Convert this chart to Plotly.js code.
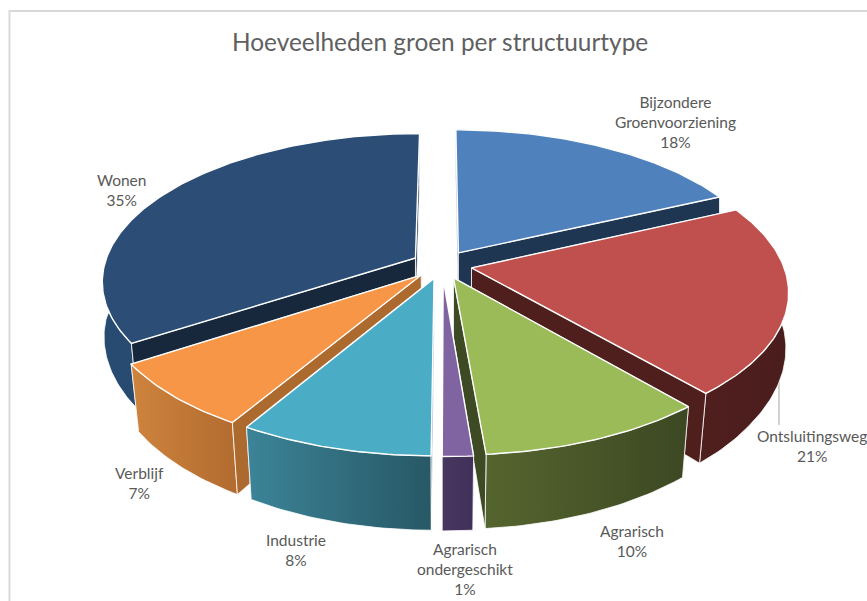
<!DOCTYPE html>
<html><head><meta charset="utf-8">
<script src="https://cdn.plot.ly/plotly-3.0.1.min.js"></script>
<style>html,body{margin:0;padding:0;background:#fff;overflow:hidden}</style>
</head><body><div id="chart" style="width:867px;height:601px"></div>
<script>
const chartTitle = "Hoeveelheden groen per structuurtype";
const categories = ["Bijzondere<br>Groenvoorziening","Ontsluitingsweg","Agrarisch","Agrarisch<br>ondergeschikt","Industrie","Verblijf","Wonen"];
const shownPercent = [18,21,10,1,8,7,35];
const sliceShares = [18.5,20.5,9.75,1.3,8.25,7.1,34.6];
const topColors = ["#4F81BD","#C0504D","#9BBB59","#8064A2","#4BACC6","#F79646","#2B4D76"];
const radialColors = ["#1F3653","#4F1F1E","#3D4A24","#43335A","#2A6273","#AD6A2E","#17283D"];
const wallLeft = ["#24415F","#4F1F1E","#55652F","#47365E","#3C8498","#CE843D","#284B72"];
const wallRight = ["#24415F","#4A1D1C","#3C4822","#41315A","#275865","#B26B30","#244468"];
const labelX = [675,812,632,465,296,139,121];
const labelY = [122,446,541,569,550,483,190];
const drawOrder = [6,0,1,5,2,4,3];

const cx=442, cy=260.5, Rx=310, Ry=144, persp=0.177, depth=60, pull=0.097, apexDrop=0.028, converge=0.024;
function project(X,Y,z){
  const w=1/(1-persp*Y), c=converge*Math.max(0,Math.min(1,Y/0.6));
  return [cx+Rx*X*w*(1-c*z), cy+Ry*Y*w+depth*z*w];
}
const total=sliceShares.reduce((a,b)=>a+b,0);
let acc=0; const spans=sliceShares.map(v=>{const a=acc/total*2*Math.PI;acc+=v;return [a,acc/total*2*Math.PI];});
function slicePoints(i){
  const [a0,a1]=spans[i], m=(a0+a1)/2, ox=pull*Math.sin(m), oy=-pull*Math.cos(m);
  const n=Math.max(3,Math.ceil((a1-a0)*60)), rim=[];
  for(let k=0;k<=n;k++){const a=a0+(a1-a0)*k/n;rim.push([ox+Math.sin(a),oy-Math.cos(a)]);}
  return {rim,apex:[ox,oy+apexDrop],startSeen:Math.sin(a0)<0,endSeen:Math.sin(a1)>0};
}
function poly(pts,z){return pts.map(p=>project(p[0],p[1],z));}
function closed(pts){return {x:pts.map(p=>p[0]).concat(pts[0][0]),y:pts.map(p=>p[1]).concat(pts[0][1])};}
const traces=[];
function add(pts,fill,grad,lw){
  const c=closed(pts);
  const t={type:"scatter",mode:"lines",x:c.x,y:c.y,fill:"toself",hoverinfo:"skip",showlegend:false,
    line:{color:"#FFFFFF",width:lw,shape:"linear"},fillcolor:fill};
  if(grad){t.fillgradient={type:"horizontal",colorscale:[[0,grad[0]],[1,grad[1]]]};}
  traces.push(t);
}
traces.push({type:"scatter",mode:"lines",x:[779,779],y:[365,425],line:{color:"#A6A6A6",width:1},hoverinfo:"skip",showlegend:false});
drawOrder.forEach(i=>{
  const {rim,apex,startSeen,endSeen}=slicePoints(i);
  const first=rim[0], last=rim[rim.length-1];
  const startFace=()=>add(poly([apex,first],0).concat(poly([first,apex],1)),radialColors[i],null,0.8);
  const endFace=()=>add(poly([apex,last],0).concat(poly([last,apex],1)),radialColors[i],null,0.8);
  if(!startSeen) startFace();
  if(!endSeen) endFace();
  add(poly(rim,0).concat(poly(rim.slice().reverse(),1)),wallLeft[i],[wallLeft[i],wallRight[i]],0.8);
  if(startSeen) startFace();
  if(endSeen) endFace();
  add(poly([apex].concat(rim),0),topColors[i],null,1.4);
});
const annotations=categories.map((c,i)=>({x:labelX[i],y:labelY[i],xref:"x",yref:"y",showarrow:false,
  text:c+"<br>"+shownPercent[i]+"%",align:"center",font:{family:"Lato, Carlito, sans-serif",size:15.5,color:"#595959"}}));
annotations.push({x:440,y:41,xref:"x",yref:"y",showarrow:false,text:chartTitle,
  font:{family:"Lato, sans-serif",size:24.4,color:"#606060"}});
const layout={width:867,height:601,margin:{l:0,r:0,t:0,b:0},paper_bgcolor:"#fff",plot_bgcolor:"#fff",showlegend:false,
  xaxis:{range:[0,867],visible:false,fixedrange:true},
  yaxis:{range:[601,0],visible:false,fixedrange:true},
  annotations,
  shapes:[{type:"rect",xref:"x",yref:"y",x0:9.5,y0:11,x1:900,y1:640,line:{color:"#D9D9D9",width:2},fillcolor:"rgba(0,0,0,0)",layer:"below"}]};
Plotly.newPlot("chart",traces,layout,{displayModeBar:false,staticPlot:true});
</script></body></html>
